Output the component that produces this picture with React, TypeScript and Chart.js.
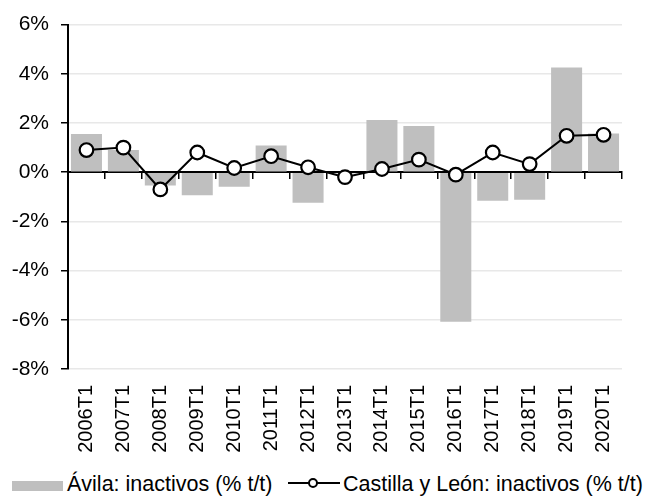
import React, { useEffect, useRef } from "react";
import { Chart, registerables } from "chart.js";

Chart.register(...registerables);

const categories = [
  "2006T1", "2007T1", "2008T1", "2009T1", "2010T1", "2011T1", "2012T1", "2013T1",
  "2014T1", "2015T1", "2016T1", "2017T1", "2018T1", "2019T1", "2020T1",
];
const avilaValues = [1.55, 0.9, -0.54, -0.94, -0.59, 1.09, -1.24, -0.05, 2.12, 1.88, -6.08, -1.16, -1.12, 4.26, 1.57];
const cylValues = [0.9, 1.0, -0.7, 0.8, 0.17, 0.65, 0.2, -0.2, 0.13, 0.51, -0.1, 0.8, 0.33, 1.48, 1.52];
const avilaLabel = "Ávila: inactivos (% t/t)";
const cylLabel = "Castilla y León: inactivos (% t/t)";

const FONT = "'Liberation Sans', Arial, sans-serif";

export default function App() {
  const ref = useRef<HTMLCanvasElement | null>(null);
  useEffect(() => {
    if (!ref.current) return;
    const chart = new Chart(ref.current, {
      type: "bar",
      data: {
        labels: categories,
        datasets: [
          {
            type: "bar",
            label: avilaLabel,
            data: avilaValues,
            backgroundColor: "#bfbfbf",
            borderWidth: 0,
            barPercentage: 0.84,
            categoryPercentage: 1,
            order: 1,
          } as any,
          {
            type: "line",
            label: cylLabel,
            data: cylValues,
            borderColor: "#000000",
            borderWidth: 2,
            pointRadius: 6.8,
            pointBorderWidth: 2.2,
            pointBackgroundColor: "#ffffff",
            pointBorderColor: "#000000",
            tension: 0,
            order: 0,
          } as any,
        ],
      },
      options: {
        responsive: false,
        animation: false,
        layout: { padding: { top: 22, left: 0, right: 37, bottom: 0 } },
        plugins: { legend: { display: false }, tooltip: { enabled: false } },
        scales: {
          x: {
            type: "category",
            offset: true,
            grid: { display: false, drawTicks: false, offset: true },
            border: { display: false },
            ticks: {
              color: "#000",
              font: { family: FONT, size: 20 },
              minRotation: 90,
              maxRotation: 90,
              autoSkip: false,
              padding: 16,
            },
            afterFit: (s: any) => {
              s.height = 101;
            },
          },
          x0: {
            type: "category",
            position: { y: 0 } as any,
            offset: true,
            grid: {
              offset: true,
              drawOnChartArea: false,
              drawTicks: true,
              tickLength: 6,
              color: "#000",
              lineWidth: 1.5,
            },
            border: { display: true, color: "#000", width: 2 },
            ticks: { display: false },
          },
          y: {
            min: -8,
            max: 6,
            ticks: {
              stepSize: 2,
              color: "#000",
              font: { family: FONT, size: 21 },
              padding: 12,
              callback: (v: any) => `${v}%`,
            },
            grid: {
              color: "#e8e8e8",
              lineWidth: 1.5,
              tickColor: "#000",
              tickLength: 7,
            },
            border: { color: "#000", width: 2 },
            afterFit: (s: any) => {
              s.width = 68;
            },
          },
        },
      } as any,
    });
    return () => chart.destroy();
  }, []);

  const textStyle: React.CSSProperties = {
    position: "absolute",
    top: 474,
    fontFamily: FONT,
    fontSize: 21.5,
    lineHeight: "21px",
    color: "#000",
    whiteSpace: "nowrap",
  };

  return (
    <div style={{ position: "absolute", left: 0, top: 0, width: 659, height: 498, background: "#fff" }}>
      <canvas ref={ref} width={659} height={470} style={{ position: "absolute", left: 0, top: 0 }} />
      <div style={{ position: "absolute", left: 12, top: 481, width: 51, height: 10, background: "#bfbfbf" }} />
      <div style={{ ...textStyle, left: 67 }}>{avilaLabel}</div>
      <svg style={{ position: "absolute", left: 285, top: 475 }} width={58} height={16}>
        <line x1={3} y1={8} x2={55} y2={8} stroke="#000" strokeWidth={2} />
        <circle cx={28} cy={8} r={4} stroke="#000" strokeWidth={2} fill="#fff" />
      </svg>
      <div style={{ ...textStyle, left: 343 }}>{cylLabel}</div>
    </div>
  );
}
